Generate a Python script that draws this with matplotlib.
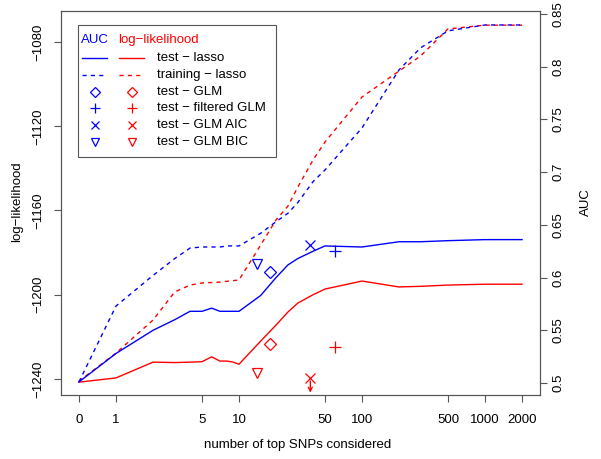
import numpy as np
import matplotlib
matplotlib.use("Agg")
import matplotlib.pyplot as plt
from matplotlib.lines import Line2D
from matplotlib.patches import Rectangle

plt.rcParams['font.family'] = ['Liberation Sans', 'DejaVu Sans']

# ---------------- data ----------------
n_snps = [0, 1, 2, 3, 4, 5, 6, 7, 8, 9, 10, 15, 20, 25, 30, 40, 50, 100, 200, 300, 500, 1000, 2000]

auc_test_lasso = [0.501, 0.528, 0.550, 0.560, 0.568, 0.568, 0.571, 0.568, 0.568, 0.568, 0.568,
                  0.583, 0.600, 0.612, 0.618, 0.625, 0.630, 0.629, 0.634, 0.634, 0.635, 0.636, 0.636]
auc_train_lasso = [0.501, 0.573, 0.602, 0.618, 0.628, 0.629, 0.629, 0.629, 0.630, 0.630, 0.630,
                   0.642, 0.653, 0.661, 0.671, 0.691, 0.702, 0.742, 0.797, 0.818, 0.834, 0.8396, 0.8396]
ll_test_lasso = [-1241.5, -1239.5, -1232.0, -1232.2, -1232.0, -1231.8, -1229.5, -1231.5, -1231.5,
                 -1232.0, -1233.0, -1222.0, -1214.4, -1208.2, -1204.0, -1200.0, -1197.3, -1193.5,
                 -1196.3, -1196.0, -1195.4, -1195.0, -1195.0]
ll_train_lasso = [-1241.0, -1227.7, -1212.0, -1198.7, -1195.4, -1194.4, -1194.2, -1194.0, -1193.6,
                  -1193.3, -1193.0, -1176.4, -1164.5, -1157.9, -1149.0, -1136.0, -1127.5, -1106.1,
                  -1093.8, -1086.6, -1073.8, -1072.0, -1072.0]

# single-model points: (n SNPs, AUC, log-likelihood)
glm_n, glm_auc, glm_ll = 18, 0.605, -1223.4
filt_n, filt_auc, filt_ll = 60, 0.625, -1224.8
aic_n, aic_auc, aic_ll = 38, 0.631, -1239.5
bic_n, bic_auc, bic_ll = 14, 0.613, -1237.0

x_ticks = [0, 1, 5, 10, 50, 100, 500, 1000, 2000]
ll_ticks = [-1240, -1200, -1160, -1120, -1080]
auc_ticks = [0.5, 0.55, 0.6, 0.65, 0.7, 0.75, 0.8, 0.85]
auc_tick_labels = ['0.5', '0.55', '0.6', '0.65', '0.7', '0.75', '0.8', '0.85']

BLUE = '#0000FF'
RED = '#FF0000'
GRAY = '#555555'

W, H = 601, 459
fig = plt.figure(figsize=(W / 100, H / 100), dpi=100)


def fx(px):
    return px / W


def fy(py):
    return 1 - py / H


left, right, top, bottom = 61, 540, 11, 395
ax = fig.add_axes([fx(left), fy(bottom), fx(right) - fx(left), fy(top) - fy(bottom)])
ax2 = ax.twinx()


def xpos(v):
    v = np.asarray(v, dtype=float)
    return np.where(v == 0, 0.5, v)


xs = xpos(n_snps)
ax.set_xscale('log')
ax.set_xlim(10 ** -0.447, 10 ** 3.447)
ax.set_ylim(-1247.6, -1065.28)
ax2.set_ylim(0.48862, 0.85285)

lw = 1.0
ax2.plot(xs, auc_test_lasso, color=BLUE, lw=lw)
ax2.plot(xs, auc_train_lasso, color=BLUE, lw=lw, dashes=(3, 3))
ax.plot(xs, ll_test_lasso, color=RED, lw=lw)
ax.plot(xs, ll_train_lasso, color=RED, lw=lw, dashes=(3, 3))

mk = dict(linestyle='none', markerfacecolor='none', markeredgewidth=0.9)
ax2.plot(xpos([glm_n]), [glm_auc], marker='D', ms=6, color=BLUE, **mk)
ax2.plot(xpos([filt_n]), [filt_auc], marker='+', ms=8.5, color=BLUE, **mk)
ax2.plot(xpos([aic_n]), [aic_auc], marker='x', ms=6.5, color=BLUE, **mk)
ax2.plot(xpos([bic_n]), [bic_auc], marker='v', ms=7.5, color=BLUE, **mk)
ax.plot(xpos([glm_n]), [glm_ll], marker='D', ms=6, color=RED, **mk)
ax.plot(xpos([filt_n]), [filt_ll], marker='+', ms=8.5, color=RED, **mk)
ax.plot(xpos([aic_n]), [aic_ll], marker='x', ms=6.5, color=RED, **mk)
ax.plot(xpos([bic_n]), [bic_ll], marker='v', ms=7.5, color=RED, **mk)
ax.annotate('', xy=(xpos([aic_n])[0], -1246.5), xytext=(xpos([aic_n])[0], -1241.0),
            arrowprops=dict(arrowstyle='->', color=RED, lw=1.0, shrinkA=0, shrinkB=0,
                            mutation_scale=7))

fs = 9.5
ax.set_xticks(xpos(x_ticks))
ax.set_xticklabels([str(v) for v in x_ticks])
ax.xaxis.set_minor_locator(matplotlib.ticker.NullLocator())
ax.set_yticks(ll_ticks)
ax.set_yticklabels(['\u2212' + str(abs(v)) for v in ll_ticks], rotation=90, va='center')
ax2.set_yticks(auc_ticks)
ax2.set_yticklabels(auc_tick_labels, rotation=90, va='center')

for a in (ax, ax2):
    for s in a.spines.values():
        s.set_color(GRAY)
        s.set_linewidth(0.8)
ax.tick_params(axis='x', length=5.2, width=0.8, color=GRAY, labelsize=fs, pad=8.5)
ax.tick_params(axis='y', length=5.2, width=0.8, color=GRAY, labelsize=fs, pad=6.5)
ax2.tick_params(axis='y', length=5.2, width=0.8, color=GRAY, labelsize=fs, pad=3.8)

fig.text(fx(17), fy(202), 'log\u2212likelihood', rotation=90, ha='center', va='center', fontsize=fs)
fig.text(fx(586), fy(202), 'AUC', rotation=90, ha='center', va='center', fontsize=fs)
fig.text(fx(298), fy(445), 'number of top SNPs considered', ha='center', va='center', fontsize=fs)

# ---------------- legend (drawn by hand, R style) ----------------
fig.patches.append(Rectangle((fx(78), fy(157)), fx(276) - fx(78), fy(25) - fy(157),
                             transform=fig.transFigure, fill=False, edgecolor=GRAY, lw=0.8))
fig.text(fx(81), fy(40), 'AUC', color=BLUE, fontsize=fs, ha='left', va='center')
fig.text(fx(118), fy(40), 'log\u2212likelihood', color=RED, fontsize=fs, ha='left', va='center')
rows = [58, 75, 92, 108, 125, 142]
labels = ['test \u2212 lasso', 'training \u2212 lasso', 'test \u2212 GLM', 'test \u2212 filtered GLM',
          'test \u2212 GLM AIC', 'test \u2212 GLM BIC']
for ry, lab in zip(rows, labels):
    fig.text(fx(157), fy(ry), lab, fontsize=fs, ha='left', va='center')
for col, x0 in ((BLUE, 82), (RED, 119)):
    fig.lines.append(Line2D([fx(x0), fx(x0 + 25)], [fy(58), fy(58)], transform=fig.transFigure,
                            color=col, lw=lw))
    fig.lines.append(Line2D([fx(x0), fx(x0 + 25)], [fy(75), fy(75)], transform=fig.transFigure,
                            color=col, lw=lw, dashes=(3, 3)))
    for ry, m, ms in ((92, 'D', 4.8), (108, '+', 7), (125, 'x', 5.2), (142, 'v', 6)):
        fig.lines.append(Line2D([fx(x0 + 13)], [fy(ry)], transform=fig.transFigure, color=col,
                                marker=m, ms=ms, **mk))

fig.savefig('out.png', dpi=100)
